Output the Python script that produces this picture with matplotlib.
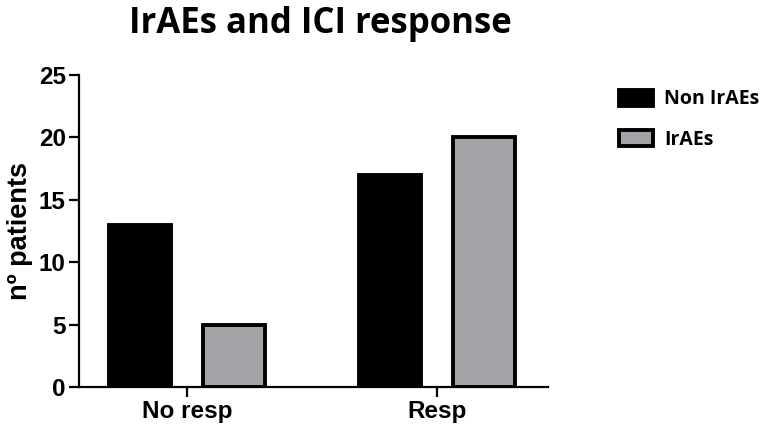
import matplotlib.pyplot as plt
import numpy as np

# Datos
categorias = ["No resp", "Resp"]
series = ["Non IrAEs", "IrAEs"]
non_iraes = [13, 17]
iraes = [5, 20]
yticks = [0, 5, 10, 15, 20, 25]

colores = ["#000000", "#a3a2a7"]

fig = plt.figure(figsize=(7.62, 4.34), dpi=100)
ax = fig.add_axes([0.1037, 0.1083, 0.6155, 0.719])

x = np.arange(len(categorias))
ancho = 0.245
desp = 0.188

ax.bar(x - desp, non_iraes, width=ancho, color=colores[0], edgecolor="black",
       linewidth=2.8, label=series[0], zorder=2)
ax.bar(x + desp, iraes, width=ancho, color=colores[1], edgecolor="black",
       linewidth=2.8, label=series[1], zorder=2)

ax.set_xlim(-0.432, 1.444)
ax.set_ylim(0, 25)
ax.set_yticks(yticks)
ax.set_xticks(x)
ax.set_xticklabels(categorias)

for s in ["top", "right"]:
    ax.spines[s].set_visible(False)
for s in ["left", "bottom"]:
    ax.spines[s].set_linewidth(1.6)

ax.tick_params(axis="both", width=1.6, length=7.5, pad=2)
for lab in ax.get_xticklabels() + ax.get_yticklabels():
    lab.set_fontfamily("Liberation Sans")
    lab.set_fontweight("bold")
    lab.set_fontsize(17.5)

ax.set_ylabel("nº patients", fontfamily="Liberation Sans", fontweight="bold",
              fontsize=19.5, labelpad=4)

fig.suptitle("IrAEs and ICI response", x=0.421, y=0.987, fontfamily="Open Sans",
             fontweight="bold", fontsize=25)

leg = ax.legend(loc="upper left", bbox_to_anchor=(1.115, 1.01), frameon=False,
                prop={"family": "Open Sans", "weight": "bold", "size": 14},
                handlelength=1.7, handleheight=0.9, labelspacing=1.05,
                handletextpad=0.6)

fig.savefig("out.png", dpi=100)
